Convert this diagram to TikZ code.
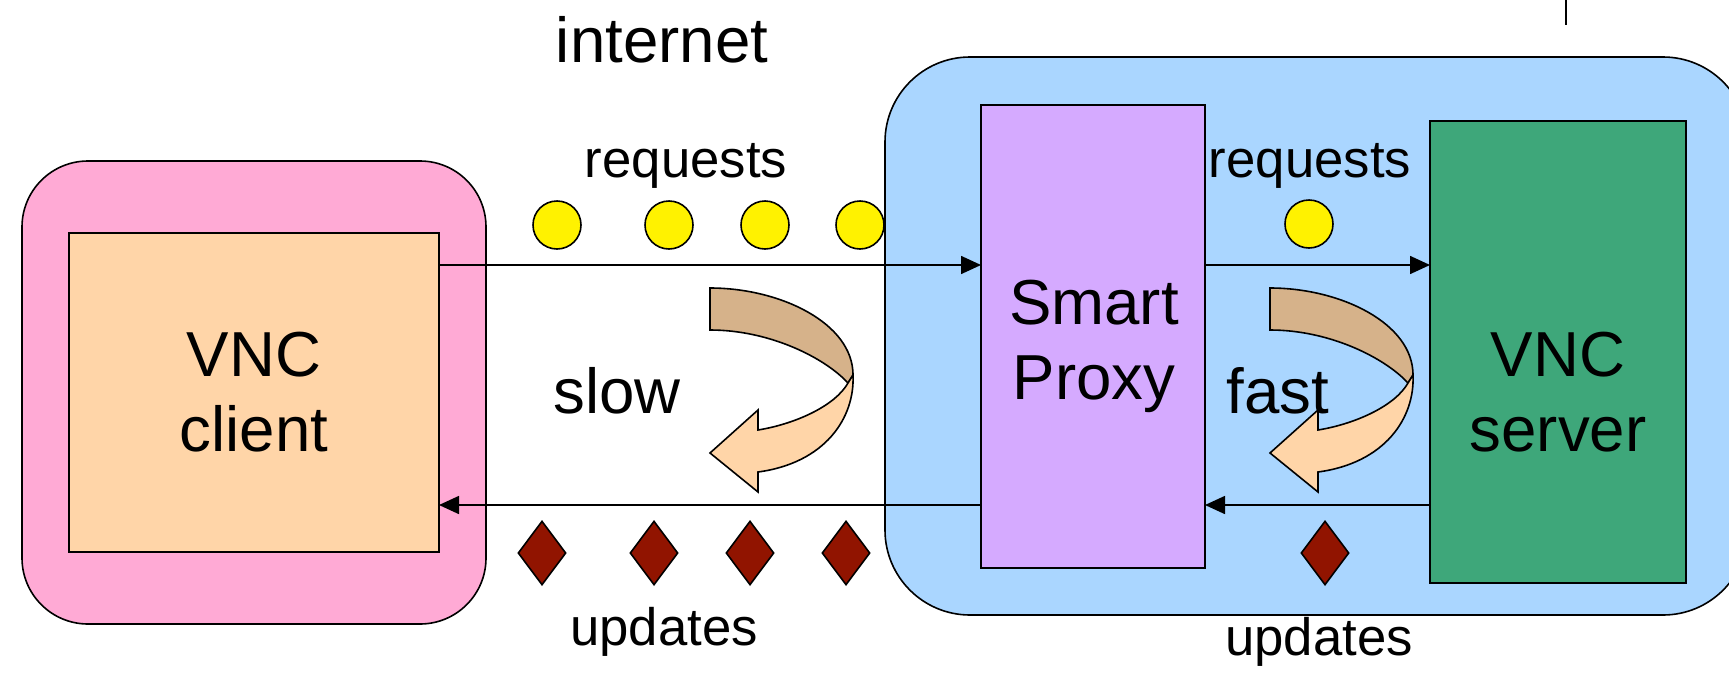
\documentclass[tikz,border=0pt]{standalone}
\usepackage{fontspec}
\setmainfont{Liberation Sans}
\usetikzlibrary{arrows.meta,shapes.geometric}
\definecolor{pinkbg}{RGB}{255,170,213}
\definecolor{bluebg}{RGB}{170,214,255}
\definecolor{peach}{RGB}{255,213,168}
\definecolor{lilac}{RGB}{213,170,255}
\definecolor{srvgreen}{RGB}{62,167,122}
\definecolor{updred}{RGB}{145,20,0}
\definecolor{tandark}{RGB}{214,178,138}
\definecolor{tanlight}{RGB}{255,213,168}
\tikzset{
  box/.style={draw=black, rectangle, inner sep=0pt, outer sep=0pt},
  big/.style={font=\fontsize{63.6}{75}\selectfont, align=center, inner sep=0pt},
  small/.style={font=\fontsize{52.7}{60}\selectfont, inner sep=0pt, anchor=base},
  req/.style={circle, draw=black, fill=yellow, minimum size=48pt, inner sep=0pt},
  upd/.style={diamond, draw=black, fill=updred, minimum width=48pt, minimum height=64pt, inner sep=0pt},
  flow/.style={-{Triangle[length=20pt,width=18pt]}},
  curl/.pic={
    \filldraw[fill=tandark] (0,0) .. controls (70,0) and (143,35) .. (143,87)
      -- (138,95) .. controls (115,70) and (60,42) .. (0,42) -- cycle;
    \filldraw[fill=tanlight] (138,95) -- (143,87) .. controls (145,130) and (115,175) .. (48,184)
      -- (48,204) -- (0,165) -- (48,122) -- (48,142)
      .. controls (85,136) and (125,118) .. (138,95) -- cycle;
  }
}
\begin{document}
\begin{tikzpicture}[x=1pt,y=-1pt,line width=1.6pt]
\useasboundingbox (0,0) rectangle (1729,672);
\clip (0,0) rectangle (1729,672);
% outer containers
\node[box, fill=bluebg, rounded corners=85pt, minimum width=863pt, minimum height=558pt] (lan) at (1316.5,336) {};
\node[box, fill=pinkbg, rounded corners=66pt, minimum width=464pt, minimum height=463pt] (host) at (254,392.5) {};
% inner boxes
\node[box, fill=peach, minimum width=370pt, minimum height=319pt, big] (client) at (254,392.5) {VNC\\client};
\node[box, fill=lilac, minimum width=224pt, minimum height=463pt] (proxy) at (1093,336.5) {};
\node[big] (proxytext) at (1094,346) {Smart\\Proxy};
\node[box, fill=srvgreen, minimum width=256pt, minimum height=462pt] (server) at (1558,352) {};
\node[big] (servertext) at (1558,392) {VNC\\server};
% top line
\coordinate (mark top) at (1566,0);
\coordinate (mark bot) at (1566,25);
\draw (mark top) -- (mark bot);
% connector levels
\coordinate (ty) at (0,265);
\coordinate (by) at (0,505);
\draw[flow] (client.east |- ty) -- (proxy.west |- ty);
\draw[flow] (proxy.east |- ty) -- (server.west |- ty);
\draw[flow] (proxy.west |- by) -- (client.east |- by);
\draw[flow] (server.west |- by) -- (proxy.east |- by);
% requests
\node[req] (r1) at (557,225) {};
\node[req] (r2) at (669,225) {};
\node[req] (r3) at (765,225) {};
\node[req] (r4) at (860,225) {};
\node[req] (r5) at (1309,224) {};
% updates
\node[upd] (u1) at (542,553) {};
\node[upd] (u2) at (654,553) {};
\node[upd] (u3) at (750,553) {};
\node[upd] (u4) at (846,553) {};
\node[upd] (u5) at (1325,553) {};
% curved arrows
\pic at (710,288) {curl};
\pic at (1270,288) {curl};
% labels
\node[big, anchor=base] (internet) at (662,62) {internet};
\node[small] (reqL) at (686,177) {requests};
\node[small] (reqR) at (1310,177) {requests};
\node[big, anchor=base] (slow) at (617,413) {slow};
\node[big, anchor=base] (fast) at (1278,413) {fast};
\node[small] (updL) at (664,645) {updates};
\node[small] (updR) at (1319,655) {updates};
\end{tikzpicture}
\end{document}
